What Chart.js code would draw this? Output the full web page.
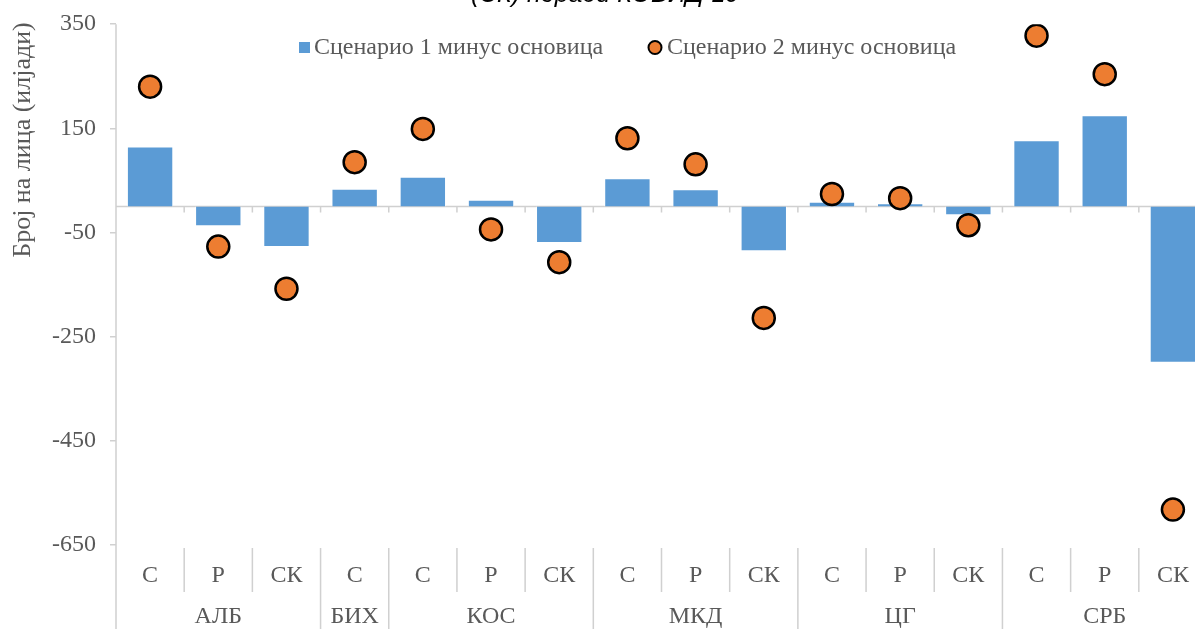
<!DOCTYPE html>
<html><head><meta charset="utf-8">
<script src="https://cdn.jsdelivr.net/npm/chart.js@4/dist/chart.umd.min.js"></script>
<style>
html,body{margin:0;padding:0;background:#fff;overflow:hidden;width:1195px;height:629px}
#wrap{position:absolute;left:0;top:0;width:1240px;height:629px}
</style>
</head><body>
<div id="wrap"><canvas id="c" width="1240" height="629"></canvas></div>
<script>
const categories = ['С','Р','СК','С','С','Р','СК','С','Р','СК','С','Р','СК','С','Р','СК'];
const groupNames = ['АЛБ','БИХ','КОС','МКД','ЦГ','СРБ'];
const groupSizes = [3,1,3,3,3,3];
const scenario1 = [115,-38,-78,34,57,13,-70,54,33,-86,9,6,-17,127,175,-300];
const scenario2 = [230,-77,-158,85,149,-44,-107,131,81,-214,24,16,-36,328,254,-582];
const yTicks = [350,150,-50,-250,-450,-650];
const seriesLabels = ['Сценарио 1 минус основица','Сценарио 2 минус основица'];
const titleText = '(СК) поради КОВИД-19';
const yTitle = 'Број на лица (илјади)';

const SERIF = '"Liberation Serif","Times New Roman",serif';
const GRAY = '#595959';
const LINE = '#D0D0D0';

const deco = {
  id: 'deco',
  beforeDatasetsDraw(chart) {
    const {ctx, chartArea: a, scales: {x, y}} = chart;
    const H = chart.height;
    const y0 = y.getPixelForValue(0);
    ctx.save();
    ctx.strokeStyle = LINE; ctx.lineWidth = 1.5;
    ctx.beginPath();
    ctx.moveTo(a.left, y0); ctx.lineTo(a.right, y0);
    for (let i = 1; i < categories.length; i++) {
      const bx = (x.getPixelForValue(i - 1) + x.getPixelForValue(i)) / 2;
      ctx.moveTo(bx, y0); ctx.lineTo(bx, y0 + 6);
    }
    ctx.moveTo(a.left, a.top); ctx.lineTo(a.left, H);
    const groupEnds = new Set();
    let acc = 0;
    groupSizes.forEach(s => { acc += s; groupEnds.add(acc); });
    for (let i = 1; i < categories.length; i++) {
      const bx = (x.getPixelForValue(i - 1) + x.getPixelForValue(i)) / 2;
      ctx.moveTo(bx, a.bottom + 3);
      ctx.lineTo(bx, groupEnds.has(i) ? H : a.bottom + 47);
    }
    ctx.stroke();
    ctx.restore();
  },
  afterDraw(chart) {
    const {ctx, chartArea: a, scales: {x}} = chart;
    ctx.save();
    ctx.fillStyle = GRAY;
    ctx.font = '24px ' + SERIF;
    ctx.textAlign = 'center'; ctx.textBaseline = 'middle';
    categories.forEach((c, i) => ctx.fillText(c, x.getPixelForValue(i), a.bottom + 31));
    let start = 0;
    groupNames.forEach((g, gi) => {
      const end = start + groupSizes[gi] - 1;
      const cx = (x.getPixelForValue(start) + x.getPixelForValue(end)) / 2;
      ctx.fillText(g, cx, a.bottom + 72);
      start = end + 1;
    });
    ctx.save();
    ctx.font = '26px ' + SERIF;
    ctx.translate(23, 140);
    ctx.rotate(-Math.PI / 2);
    ctx.fillText(yTitle, 0, 0);
    ctx.restore();
    const ds = chart.data.datasets;
    ctx.textAlign = 'left';
    ctx.fillStyle = ds[0].backgroundColor;
    ctx.fillRect(299, 42, 11, 11);
    ctx.fillStyle = GRAY;
    ctx.fillText(ds[0].label, 314, 48);
    ctx.beginPath();
    ctx.arc(655, 47.5, 6.5, 0, Math.PI * 2);
    ctx.fillStyle = ds[1].backgroundColor; ctx.fill();
    ctx.lineWidth = 2; ctx.strokeStyle = '#000'; ctx.stroke();
    ctx.fillStyle = GRAY;
    ctx.fillText(ds[1].label, 667, 48);
    ctx.fillStyle = '#000';
    ctx.font = 'italic 25px "Liberation Sans", Arial, sans-serif';
    ctx.textAlign = 'center'; ctx.textBaseline = 'alphabetic';
    ctx.fillText(titleText, 605, 2);
    ctx.restore();
  }
};

new Chart(document.getElementById('c'), {
  data: {
    labels: categories,
    datasets: [
      {
        type: 'bar', label: seriesLabels[0], data: scenario1,
        backgroundColor: '#5B9BD5', borderColor: 'rgba(255,255,255,0.6)', borderWidth: 1,
        barPercentage: 0.68, categoryPercentage: 1, order: 2
      },
      {
        type: 'line', label: seriesLabels[1], data: scenario2,
        showLine: false, pointRadius: 11, pointHoverRadius: 11,
        backgroundColor: '#ED7D31', borderColor: '#000', pointBorderWidth: 2.5,
        order: 1
      }
    ]
  },
  options: {
    responsive: false,
    animation: false,
    devicePixelRatio: 1,
    layout: {padding: {left: 0, right: 33, top: 23, bottom: 84}},
    plugins: {legend: {display: false}, title: {display: false}, tooltip: {enabled: false}},
    scales: {
      x: {display: false, offset: true},
      y: {
        min: -650, max: 350,
        afterBuildTicks: s => { s.ticks = yTicks.map(v => ({value: v})); },
        afterFit: s => { s.width = 116; },
        grid: {drawOnChartArea: false, drawTicks: true, tickLength: 6, color: LINE, lineWidth: 1.5},
        border: {display: false},
        ticks: {color: GRAY, padding: 14, font: {family: SERIF, size: 24, lineHeight: 0.85}}
      }
    }
  },
  plugins: [deco]
});
</script>
</body></html>
